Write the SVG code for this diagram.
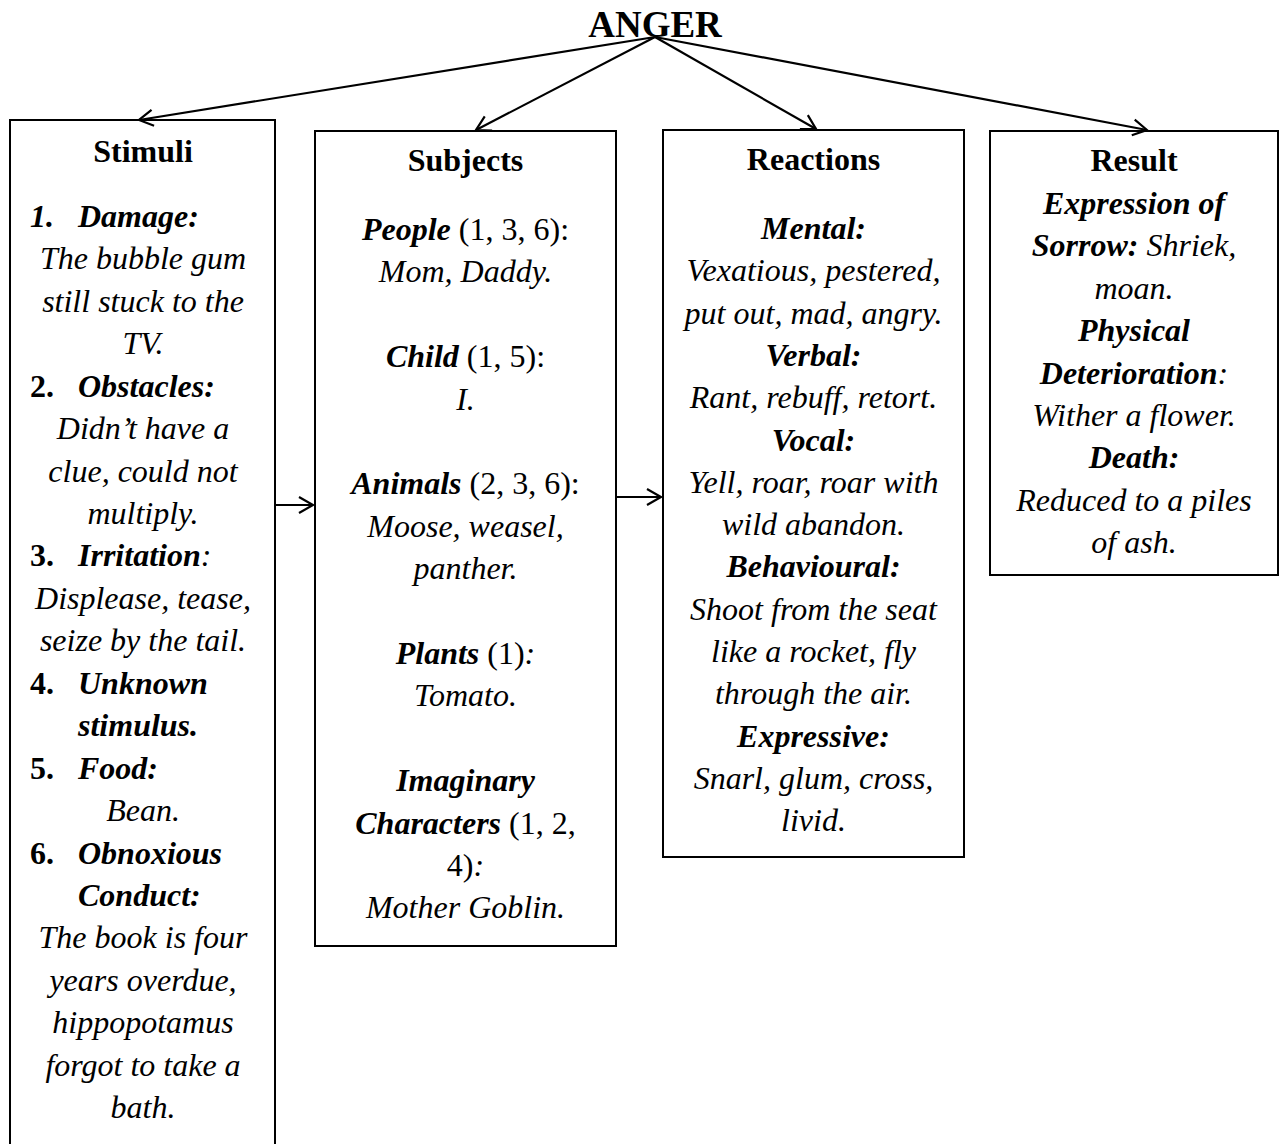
<svg xmlns="http://www.w3.org/2000/svg" width="1280" height="1144" viewBox="0 0 1280 1144">
  <style>
    text { font-family: "Liberation Serif", "Times New Roman", serif; font-size: 32px; fill: #000; }
    .c { text-anchor: middle; }
    .b { font-weight: bold; }
    .i { font-style: italic; }
    .bi { font-weight: bold; font-style: italic; }
    .title { font-size: 37px; font-weight: bold; text-anchor: middle; }
    .box { fill: #fff; stroke: #000; stroke-width: 2; }
    .link { fill: none; stroke: #000; stroke-width: 2.2; }
  </style>
  <defs>
    <!-- open V arrowhead shared by all connectors -->
    <marker id="arrow" markerUnits="userSpaceOnUse" markerWidth="22" markerHeight="22" refX="16" refY="10" orient="auto">
      <path d="M2,2 L16,10 L2,18" fill="none" stroke="#000" stroke-width="2.2"/>
    </marker>
  </defs>

  <rect width="1280" height="1144" fill="#fff"/>

  <g id="anger">
    <text class="title" x="655" y="37">ANGER</text>
  </g>

  <g id="stimuli">
    <rect class="box" x="10" y="120" width="265" height="1040"/>
    <text class="c b" x="143" y="162">Stimuli</text>
    <text class="bi" x="30" y="227">1.</text><text class="bi" x="78" y="227">Damage:</text>
    <text class="c i" x="143" y="269.4">The bubble gum</text>
    <text class="c i" x="143" y="311.9">still stuck to the</text>
    <text class="c i" x="143" y="354.3">TV.</text>
    <text class="b" x="30" y="396.7">2.</text><text class="bi" x="78" y="396.7">Obstacles:</text>
    <text class="c i" x="143" y="439.2">Didn’t have a</text>
    <text class="c i" x="143" y="481.6">clue, could not</text>
    <text class="c i" x="143" y="524">multiply.</text>
    <text class="b" x="30" y="566.4">3.</text><text class="bi" x="78" y="566.4">Irritation<tspan class="i" font-weight="normal">:</tspan></text>
    <text class="c i" x="143" y="608.9">Displease, tease,</text>
    <text class="c i" x="143" y="651.3">seize by the tail.</text>
    <text class="b" x="30" y="693.7">4.</text><text class="bi" x="78" y="693.7">Unknown</text>
    <text class="bi" x="78" y="736.2">stimulus.</text>
    <text class="b" x="30" y="778.6">5.</text><text class="bi" x="78" y="778.6">Food:</text>
    <text class="c i" x="143" y="821">Bean.</text>
    <text class="b" x="30" y="863.5">6.</text><text class="bi" x="78" y="863.5">Obnoxious</text>
    <text class="bi" x="78" y="905.9">Conduct:</text>
    <text class="c i" x="143" y="948.3">The book is four</text>
    <text class="c i" x="143" y="990.7">years overdue,</text>
    <text class="c i" x="143" y="1033.2">hippopotamus</text>
    <text class="c i" x="143" y="1075.6">forgot to take a</text>
    <text class="c i" x="143" y="1118">bath.</text>
  </g>

  <g id="subjects">
    <rect class="box" x="315" y="131" width="301" height="815"/>
    <text class="c b" x="465.5" y="171">Subjects</text>
    <text class="c" x="465.5" y="240"><tspan class="bi">People</tspan> (1, 3, 6):</text>
    <text class="c i" x="465.5" y="282.4">Mom, Daddy.</text>
    <text class="c" x="465.5" y="367.2"><tspan class="bi">Child</tspan> (1, 5):</text>
    <text class="c i" x="465.5" y="409.6">I.</text>
    <text class="c" x="465.5" y="494.4"><tspan class="bi">Animals</tspan> (2, 3, 6):</text>
    <text class="c i" x="465.5" y="536.8">Moose, weasel,</text>
    <text class="c i" x="465.5" y="579.2">panther.</text>
    <text class="c" x="465.5" y="664"><tspan class="bi">Plants</tspan> (1)<tspan class="i">:</tspan></text>
    <text class="c i" x="465.5" y="706.4">Tomato.</text>
    <text class="c bi" x="465.5" y="791.2">Imaginary</text>
    <text class="c" x="465.5" y="833.6"><tspan class="bi">Characters</tspan> (1, 2,</text>
    <text class="c" x="465.5" y="876">4)<tspan class="i">:</tspan></text>
    <text class="c i" x="465.5" y="918.4">Mother Goblin.</text>
  </g>

  <g id="reactions">
    <rect class="box" x="663" y="130" width="301" height="727"/>
    <text class="c b" x="813.5" y="170">Reactions</text>
    <text class="c bi" x="813.5" y="239">Mental:</text>
    <text class="c i" x="813.5" y="281.3">Vexatious, pestered,</text>
    <text class="c i" x="813.5" y="323.6">put out, mad, angry.</text>
    <text class="c bi" x="813.5" y="365.9">Verbal:</text>
    <text class="c i" x="813.5" y="408.2">Rant, rebuff, retort.</text>
    <text class="c bi" x="813.5" y="450.5">Vocal:</text>
    <text class="c i" x="813.5" y="492.8">Yell, roar, roar with</text>
    <text class="c i" x="813.5" y="535.1">wild abandon.</text>
    <text class="c bi" x="813.5" y="577.4">Behavioural:</text>
    <text class="c i" x="813.5" y="619.7">Shoot from the seat</text>
    <text class="c i" x="813.5" y="662">like a rocket, fly</text>
    <text class="c i" x="813.5" y="704.3">through the air.</text>
    <text class="c bi" x="813.5" y="746.6">Expressive:</text>
    <text class="c i" x="813.5" y="788.9">Snarl, glum, cross,</text>
    <text class="c i" x="813.5" y="831.2">livid.</text>
  </g>

  <g id="result">
    <rect class="box" x="990" y="131" width="288" height="444"/>
    <text class="c b" x="1134" y="171">Result</text>
    <text class="c bi" x="1134" y="214">Expression of</text>
    <text class="c i" x="1134" y="256.4"><tspan class="bi">Sorrow:</tspan> Shriek,</text>
    <text class="c i" x="1134" y="298.8">moan.</text>
    <text class="c bi" x="1134" y="341.2">Physical</text>
    <text class="c bi" x="1134" y="383.6">Deterioration<tspan class="i" font-weight="normal">:</tspan></text>
    <text class="c i" x="1134" y="426">Wither a flower.</text>
    <text class="c bi" x="1134" y="468.4">Death:</text>
    <text class="c i" x="1134" y="510.8">Reduced to a piles</text>
    <text class="c i" x="1134" y="553.2">of ash.</text>
  </g>

  <g id="connectors">
    <line class="link" x1="655" y1="37" x2="139" y2="120" marker-end="url(#arrow)"/>
    <line class="link" x1="655" y1="37" x2="476" y2="130" marker-end="url(#arrow)"/>
    <line class="link" x1="655" y1="37" x2="816" y2="129" marker-end="url(#arrow)"/>
    <line class="link" x1="655" y1="37" x2="1147" y2="130" marker-end="url(#arrow)"/>
    <line class="link" x1="275" y1="505" x2="313" y2="505" marker-end="url(#arrow)"/>
    <line class="link" x1="616" y1="497" x2="661" y2="497" marker-end="url(#arrow)"/>
  </g>
</svg>
